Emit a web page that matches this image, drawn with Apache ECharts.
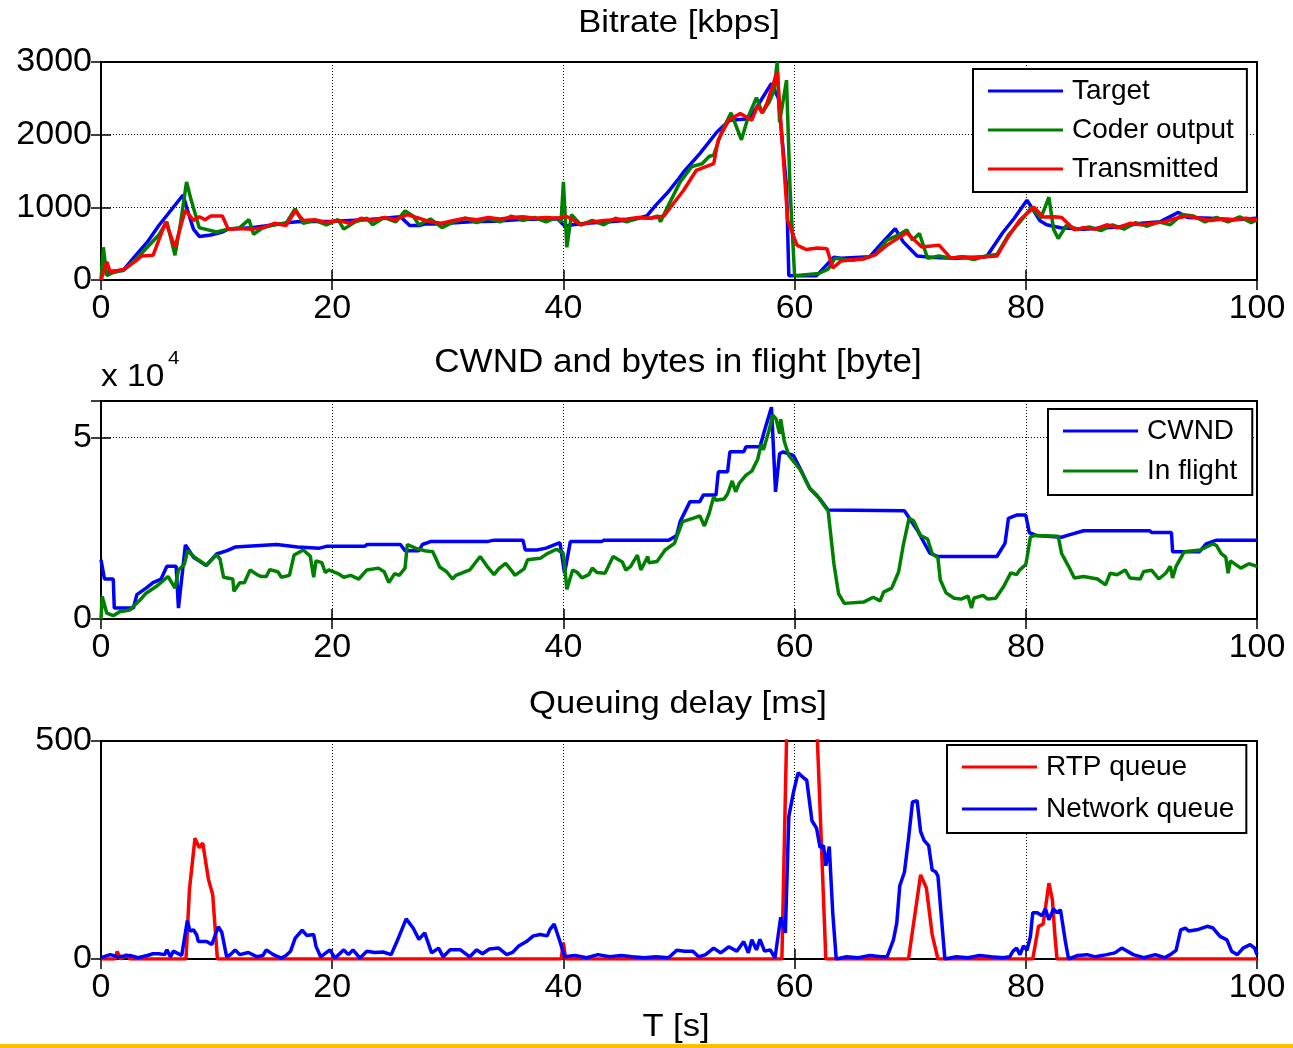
<!DOCTYPE html>
<html>
<head>
<meta charset="utf-8">
<script src="https://cdn.jsdelivr.net/npm/echarts@6/dist/echarts.min.js"></script>
<style>
html, body { margin: 0; padding: 0; background: #fff; }
#chart { width: 1293px; height: 1048px; }
</style>
</head>
<body>
<div id="chart"></div>
<script>
// ---- data ----
const timeTicks = [0, 20, 40, 60, 80, 100];
const bitrateTicks = [0, 1000, 2000, 3000];
const cwndTicks = [0, 5];          // x 10^4 bytes
const cwndMax = 6;
const delayTicks = [0, 500];

// Bitrate [kbps]: [t, value]
const bitrateTarget = [[0,110],[1.9,130],[2.8,300],[4,520],[5,750],[6,950],[7.1,1170],[7.4,1000],[8,700],[8.5,600],[9.5,620],[10.5,660],[11,700],[13,720],[14,740],[15,760],[16.3,790],[17,800],[20,810],[23,830],[25.9,870],[26.5,780],[26.7,750],[27.5,750],[28,770],[29,770],[30,780],[32,800],[34,810],[36,830],[38,840],[39.5,840],[40,760],[40.2,740],[40.8,760],[42,780],[44,800],[46,830],[47.2,880],[48,1030],[49,1200],[50,1400],[50.4,1486],[51.8,1740],[53.3,2040],[54.1,2155],[54.4,2200],[56.1,2220],[57,2450],[58,2705],[58.6,2500],[59.3,1280],[59.5,60],[61.9,60],[63.4,315],[64,300],[66.5,320],[67.5,500],[68.7,707],[69.4,525],[70.6,330],[72,310],[74,300],[76.6,320],[78,650],[79,850],[80.1,1097],[80.5,1000],[81.2,820],[81.8,760],[83,720],[85,700],[88,730],[90,780],[91.6,800],[93.2,930],[94,860],[96,850],[98,830],[100,850]];
const bitrateCoder = [[0,0],[0.2,450],[0.5,60],[1,100],[2,140],[3,280],[4,450],[5,620],[5.7,800],[6.4,340],[6.9,800],[7.4,1350],[7.8,1100],[8.5,720],[9,700],[10,660],[11,700],[12,720],[12.8,830],[13.2,630],[14,720],[15,760],[16,780],[16.8,980],[17.5,780],[18.5,820],[19.5,760],[20.5,830],[21,700],[22,800],[23,850],[23.5,760],[24.5,860],[25.5,800],[26.3,950],[27,880],[27.5,760],[28.5,840],[29.5,720],[30.5,800],[31.5,850],[32.5,790],[33.5,850],[34.5,800],[35.5,880],[36.5,820],[37.5,860],[38.5,800],[39.4,860],[39.8,800],[40,1350],[40.3,450],[40.7,900],[41.5,760],[42.5,820],[43.5,760],[44.5,850],[45.5,800],[46.5,860],[47.5,850],[48.2,880],[48.4,800],[49,1000],[50.1,1350],[51.1,1560],[52,1600],[52.6,1700],[53,1720],[53.7,2040],[54.5,2300],[55.4,1930],[56,2250],[56.7,2510],[57.2,2300],[57.8,2450],[58.2,2600],[58.5,3000],[58.7,2170],[59.3,2750],[59.6,1280],[60,60],[62.1,90],[62.9,150],[63.5,300],[65,270],[66,300],[67,350],[68,550],[69,620],[69.7,690],[70.2,550],[70.8,640],[71.5,300],[72.5,330],[73.5,300],[74.5,320],[75.5,280],[76.5,330],[77.5,350],[78.5,620],[79.5,800],[80.5,1000],[81.3,850],[82,1140],[82.4,700],[82.8,570],[83.5,750],[84.5,700],[85.5,730],[86.5,680],[87.5,760],[88.5,700],[89.5,790],[90.5,740],[91.5,800],[92.5,760],[93.5,900],[94.5,880],[95.5,800],[96.5,860],[97.5,800],[98.5,870],[99.5,790],[100,830]];
const bitrateTransmitted = [[0,0],[0.5,250],[0.8,110],[2,150],[3,260],[3.5,330],[4.5,340],[5,550],[5.6,800],[6.4,450],[7,800],[7.3,960],[8,820],[8.5,870],[9,830],[9.5,880],[10.5,880],[11,700],[12,710],[13,700],[14,720],[15,780],[16,750],[16.8,950],[17.5,820],[18.5,830],[19.5,790],[20.5,820],[21.5,780],[22.5,850],[23.5,820],[24.5,860],[25.5,830],[26.5,900],[27.5,850],[28.5,800],[29.5,780],[30.5,820],[31.5,850],[32.5,830],[33.5,860],[34.5,840],[35.5,860],[36.5,870],[37.5,850],[38.5,860],[39.5,850],[40.2,880],[40.8,830],[41.5,760],[42.5,800],[43.5,820],[44.5,830],[45.5,840],[46.5,860],[47.5,850],[48.7,880],[49.5,1050],[50.4,1235],[51.5,1510],[53,1600],[53.4,1930],[54.3,2200],[55.3,2290],[56.3,2200],[56.8,2400],[57.2,2300],[57.6,2430],[58.5,2870],[59.2,1280],[59.4,820],[60.2,480],[61,420],[62,440],[62.8,430],[63.3,165],[64,260],[65,280],[66,290],[67,350],[68,480],[69,580],[69.7,650],[70.3,560],[71,453],[72,470],[72.5,480],[73.5,300],[74.5,320],[75.5,310],[76.5,320],[77.5,330],[78.5,600],[79.5,830],[80.7,1000],[81.5,867],[82.5,870],[83.1,860],[84.2,690],[85,720],[86,700],[87,760],[88,720],[89,780],[90,760],[91,780],[92,800],[93,850],[94,880],[95,850],[96,820],[97,840],[98,830],[99,850],[100,830]];

// CWND and bytes in flight [x 10^4 byte]
const cwnd = [[0,1.63],[0.3,1.1],[1.06,1.1],[1.15,0.3],[2.8,0.3],[3.1,0.67],[3.9,0.85],[4.5,1.0],[5.2,1.1],[5.7,1.45],[6.5,1.45],[6.7,0.3],[7.3,2.04],[8,1.7],[9.1,1.47],[10,1.79],[10.9,1.88],[11.6,1.98],[15.2,2.05],[17,1.98],[18.9,1.95],[19.5,2.0],[22.8,2.0],[23,2.05],[25.9,2.05],[26.3,1.88],[27.5,1.88],[27.8,2.05],[28.5,2.13],[33.4,2.13],[34,2.17],[36.5,2.17],[36.7,1.9],[37.7,1.9],[38.5,1.95],[39.7,2.1],[40.1,1.26],[40.6,2.13],[43.3,2.13],[43.5,2.17],[49.1,2.17],[49.8,2.3],[50.1,2.68],[50.95,3.23],[51.8,3.23],[52.1,3.41],[53.2,3.41],[53.4,4.05],[54.2,4.05],[54.4,4.6],[55.6,4.6],[55.8,4.74],[57,4.74],[57.5,5.3],[58,5.83],[58.35,3.5],[58.7,4.55],[59,4.6],[59.9,4.5],[60.7,4.0],[61.3,3.6],[62.2,3.3],[62.9,3.0],[69.5,2.98],[70.6,2.45],[71.7,1.81],[72.4,1.72],[77.5,1.72],[78.2,2.08],[78.5,2.77],[79.2,2.86],[80,2.86],[80.3,2.38],[80.9,2.3],[83.1,2.25],[83.6,2.3],[85,2.43],[90.7,2.43],[90.9,2.38],[92.6,2.38],[92.7,1.85],[95,1.85],[95.6,2.07],[96.5,2.17],[100,2.17]];
const inFlight = [[0,0],[0.1,0.62],[0.5,0.16],[1.06,0.09],[1.6,0.2],[2.5,0.25],[2.8,0.35],[3.4,0.53],[3.9,0.71],[4.8,0.9],[5.8,1.17],[6.4,0.85],[6.7,1.35],[7.2,1.5],[7.5,1.88],[8.1,1.7],[9.1,1.48],[10,1.77],[10.3,1.65],[10.6,1.15],[11.4,1.1],[11.5,0.76],[12,1.0],[12.4,1.0],[12.9,1.35],[13.6,1.2],[13.9,1.17],[14.3,1.17],[14.6,1.36],[15.3,1.3],[15.6,1.15],[16.3,1.2],[16.7,1.76],[17.5,1.9],[18.1,1.73],[18.4,1.15],[18.6,1.6],[19.1,1.55],[19.4,1.28],[19.7,1.35],[20.5,1.25],[21,1.15],[21.6,1.2],[22.3,1.1],[23,1.35],[24,1.4],[24.5,1.3],[24.9,1.0],[25.4,1.25],[25.8,1.2],[26.3,1.4],[26.5,2.05],[27.2,1.95],[28,1.88],[28.7,1.85],[29.3,1.43],[29.9,1.3],[30.4,1.1],[30.7,1.2],[31.9,1.35],[32.8,1.72],[33.4,1.45],[34,1.22],[34.4,1.38],[35,1.53],[35.6,1.3],[35.8,1.2],[36.6,1.38],[36.9,1.63],[38,1.67],[38.6,1.8],[39.4,1.92],[40,1.8],[40.3,0.82],[40.8,1.35],[41.2,1.28],[41.6,1.13],[42.2,1.22],[42.5,1.4],[42.9,1.28],[43.6,1.26],[44.3,1.72],[45.1,1.57],[45.4,1.35],[45.8,1.44],[46.4,1.76],[46.7,1.35],[47.3,1.72],[47.4,1.55],[48.1,1.58],[48.8,1.9],[49.6,2.08],[50.3,2.68],[51.2,2.77],[51.8,2.84],[52.2,2.56],[52.6,2.9],[53,3.36],[53.2,3.27],[53.9,3.3],[54.2,3.44],[54.6,3.8],[54.9,3.5],[55.2,3.73],[55.8,3.96],[56.3,4.07],[56.8,4.39],[57.1,4.8],[57.3,4.66],[57.8,5.2],[58.1,5.62],[58.4,5.5],[58.7,5.1],[58.8,5.5],[59.1,4.9],[59.5,4.5],[60.5,4.1],[61.3,3.6],[61.9,3.42],[62.6,3.1],[62.9,2.98],[63.4,1.52],[63.8,0.7],[64.3,0.43],[66,0.47],[66.8,0.6],[67.4,0.5],[67.7,0.74],[68.4,0.85],[69,1.3],[69.4,2.03],[69.9,2.77],[70.3,2.7],[70.9,2.3],[71.5,2.2],[71.9,1.8],[72.4,1.68],[72.6,1.08],[73.1,0.72],[73.8,0.57],[74.4,0.55],[75,0.63],[75.3,0.3],[75.5,0.57],[76.3,0.65],[76.7,0.55],[77.4,0.57],[78.1,0.9],[78.7,1.27],[79.2,1.22],[79.5,1.36],[80,1.5],[80.1,1.68],[80.4,2.26],[80.8,2.3],[82.8,2.28],[83.1,1.8],[83.7,1.45],[84.2,1.13],[85,1.17],[86.2,1.1],[86.9,0.94],[87.3,1.26],[87.9,1.22],[88.6,1.35],[89,1.13],[89.9,1.1],[90.2,1.31],[90.9,1.34],[91.5,1.1],[92.1,1.26],[92.5,1.45],[92.7,1.13],[93,1.45],[93.7,1.85],[95.1,1.9],[96.2,2.07],[96.5,2.02],[96.9,1.8],[97.3,1.7],[97.5,1.26],[97.7,1.6],[98.6,1.4],[99.3,1.52],[100,1.45]];

// Queuing delay [ms]
const rtpQueue = [[0,0],[1.2,0],[1.4,17],[1.7,0],[2.2,10],[2.5,0],[7.35,0],[7.65,159],[8.13,277],[8.5,255],[8.8,266],[9.3,182],[9.66,148],[10.07,0],[39.8,0],[40.0,37],[40.2,0],[58.9,0],[59.7,1000],[61.25,1000],[62.7,0],[69.85,0],[70.9,193],[71.4,163],[71.9,56],[72.4,0],[80.6,0],[81.1,75],[81.5,80],[82.0,174],[82.3,136],[82.5,60],[82.7,0],[100,0]];
const networkQueue = [[0,3],[0.8,10],[1.5,5],[2.5,8],[3.2,3],[4,8],[4.5,12],[5,12],[5.5,10],[5.7,21],[6,5],[6.26,18],[6.98,8],[7.47,88],[7.7,64],[8.0,67],[8.28,55],[8.42,40],[9.14,40],[9.58,33],[10.15,74],[10.44,62],[10.87,5],[11.2,10],[11.6,21],[12.0,10],[12.75,15],[13.5,5],[14.0,8],[14.3,21],[14.9,10],[15.6,2],[16.0,8],[16.4,18],[16.8,48],[17.4,66],[17.8,54],[18.4,56],[18.6,29],[19.0,5],[19.8,21],[20.25,2],[21.0,21],[21.4,10],[21.8,21],[22.4,2],[23.0,18],[23.7,15],[24.4,16],[25.1,10],[25.6,40],[26.4,92],[27.0,71],[27.5,45],[28.0,60],[28.6,14],[29.2,25],[29.6,5],[30.2,21],[31.1,21],[31.9,5],[32.5,21],[33.0,12],[33.6,23],[34.4,25],[35.1,10],[35.6,15],[36.1,29],[36.8,40],[37.4,53],[38.0,56],[38.6,53],[38.84,68],[39.2,80],[39.7,40],[40.1,5],[41,8],[42,3],[43,10],[44,5],[45,8],[46,5],[47,3],[48,5],[49.1,3],[49.8,20],[50.5,18],[51.2,18],[51.7,5],[52.3,10],[53.0,25],[53.6,14],[54.3,28],[55.0,18],[55.6,40],[56.0,14],[56.3,44],[56.7,21],[57.0,45],[57.4,18],[57.9,21],[58.3,2],[58.8,96],[59.2,60],[59.5,327],[59.9,382],[60.3,427],[60.8,415],[61.05,410],[61.5,317],[61.9,300],[62.2,256],[62.5,260],[62.7,214],[63.0,258],[63.3,106],[63.6,0],[64.5,5],[65.5,3],[66.5,8],[67.5,5],[68.0,5],[68.55,44],[68.84,83],[69.1,168],[69.5,199],[69.85,275],[70.2,360],[70.6,363],[70.9,292],[71.2,272],[71.6,260],[71.9,204],[72.2,200],[72.4,190],[73.0,0],[74,5],[75,3],[76,8],[77,5],[78,3],[78.6,5],[78.9,18],[79.2,25],[79.5,10],[79.8,30],[80.1,20],[80.4,52],[80.6,106],[81.0,106],[81.4,99],[81.7,115],[82.0,90],[82.4,115],[82.7,106],[83.0,113],[83.4,44],[83.7,0],[84.5,8],[85.3,10],[86,5],[87,10],[87.7,14],[88.3,25],[89.3,10],[90.2,3],[91.2,10],[92.0,3],[92.5,10],[93.0,20],[93.4,67],[93.8,71],[94.1,64],[94.8,67],[95.7,75],[96.2,71],[96.8,52],[97.4,44],[97.8,18],[98.3,10],[98.8,25],[99.4,33],[99.8,25],[100,10]];

// ---- chart ----
const FONT = '"Liberation Sans", Arial, sans-serif';
const chart = echarts.init(document.getElementById('chart'));

const grids = [
  { left: 101, top: 62, width: 1156, height: 218 },
  { left: 101, top: 401, width: 1156, height: 218 },
  { left: 101, top: 741, width: 1156, height: 218 }
].map(g => Object.assign(g, { show: true, borderColor: '#000', borderWidth: 2, backgroundColor: '#fff', outerBoundsMode: 'none' }));

const tickStyle = { inside: true, length: 10, lineStyle: { color: '#000', width: 1.5 } };
const gridLine = { show: true, lineStyle: { color: '#000', width: 1, type: [1, 2] } };
const labelStyle = { color: '#000', fontSize: 34, fontFamily: FONT };

const xMain = i => ({
  type: 'value', gridIndex: i, position: 'bottom',
  min: timeTicks[0], max: timeTicks[timeTicks.length - 1], interval: timeTicks[1] - timeTicks[0],
  axisLine: { show: false }, axisTick: tickStyle, splitLine: gridLine,
  axisLabel: Object.assign({ margin: 12 }, labelStyle)
});
const xTop = i => ({
  type: 'value', gridIndex: i, position: 'top',
  min: timeTicks[0], max: timeTicks[timeTicks.length - 1], interval: timeTicks[1] - timeTicks[0],
  axisLine: { show: false }, axisTick: tickStyle, splitLine: { show: false }, axisLabel: { show: false }
});
const yMain = (i, ticks, max) => ({
  type: 'value', gridIndex: i, position: 'left',
  min: ticks[0], max: max, interval: ticks[1] - ticks[0],
  axisLine: { show: false }, axisTick: tickStyle, splitLine: gridLine,
  axisLabel: Object.assign({ margin: 9, formatter: v => ticks.indexOf(v) >= 0 ? String(v) : '' }, labelStyle)
});
const yRight = (i, ticks, max) => ({
  type: 'value', gridIndex: i, position: 'right',
  min: ticks[0], max: max, interval: ticks[1] - ticks[0],
  axisLine: { show: false }, axisTick: tickStyle, splitLine: { show: false }, axisLabel: { show: false }
});

const line = (name, data, color, axis) => ({
  name, type: 'line', data, xAxisIndex: axis, yAxisIndex: axis,
  symbol: 'none', showSymbol: false, animation: false,
  lineStyle: { color, width: 3.5 }, itemStyle: { color }, emphasis: { disabled: true }
});

const legendBox = (names, left, top, padding, gap) => ({
  data: names, orient: 'vertical', left, top, padding, itemGap: gap,
  icon: 'rect', itemWidth: 75, itemHeight: 3, selectedMode: false,
  backgroundColor: '#fff', borderColor: '#000', borderWidth: 2, borderRadius: 0,
  textStyle: { color: '#000', fontSize: 28, fontFamily: FONT, lineHeight: 30, padding: [0, 0, 0, 4] }
});

const text = (str, x, y, size, align) => ({
  type: 'text', x, y, scaleX: 1.08, z: 10,
  style: { text: str, fill: '#000', font: size + 'px ' + FONT, align: align || 'center', verticalAlign: 'middle' }
});

const yellowBar = { type: 'rect', shape: { x: 0, y: 1044, width: 1293, height: 4 }, style: { fill: '#FFC000' }, z: 10 };

chart.setOption({
  animation: false,
  grid: grids,
  xAxis: [xMain(0), xMain(1), xMain(2), xTop(0), xTop(1), xTop(2)],
  yAxis: [
    yMain(0, bitrateTicks, bitrateTicks[bitrateTicks.length - 1]),
    yMain(1, cwndTicks, cwndMax),
    yMain(2, delayTicks, delayTicks[delayTicks.length - 1]),
    yRight(0, bitrateTicks, bitrateTicks[bitrateTicks.length - 1]),
    yRight(1, cwndTicks, cwndMax),
    yRight(2, delayTicks, delayTicks[delayTicks.length - 1])
  ],
  legend: [
    legendBox(['Target', 'Coder output', 'Transmitted'], 973, 69, [7, 13, 8, 15], 9),
    legendBox(['CWND', 'In flight'], 1048, 409, [7, 15, 9, 15], 10),
    legendBox(['RTP queue', 'Network queue'], 947, 745, [7, 12, 9, 15], 12)
  ],
  series: [
    line('Target', bitrateTarget, '#0000FF', 0),
    line('Coder output', bitrateCoder, '#008000', 0),
    line('Transmitted', bitrateTransmitted, '#FF0000', 0),
    line('CWND', cwnd, '#0000FF', 1),
    line('In flight', inFlight, '#008000', 1),
    line('RTP queue', rtpQueue, '#FF0000', 2),
    line('Network queue', networkQueue, '#0000FF', 2)
  ],
  graphic: [
    text('Bitrate [kbps]', 679, 23, 32),
    text('CWND and bytes in flight [byte]', 678, 363, 32.5),
    text('Queuing delay [ms]', 678, 704, 32),
    text('T [s]', 676, 1027, 32),
    text('x 10', 101, 377, 31, 'left'),
    text('4', 168, 359, 19, 'left'),
    yellowBar
  ]
});
</script>
</body>
</html>
